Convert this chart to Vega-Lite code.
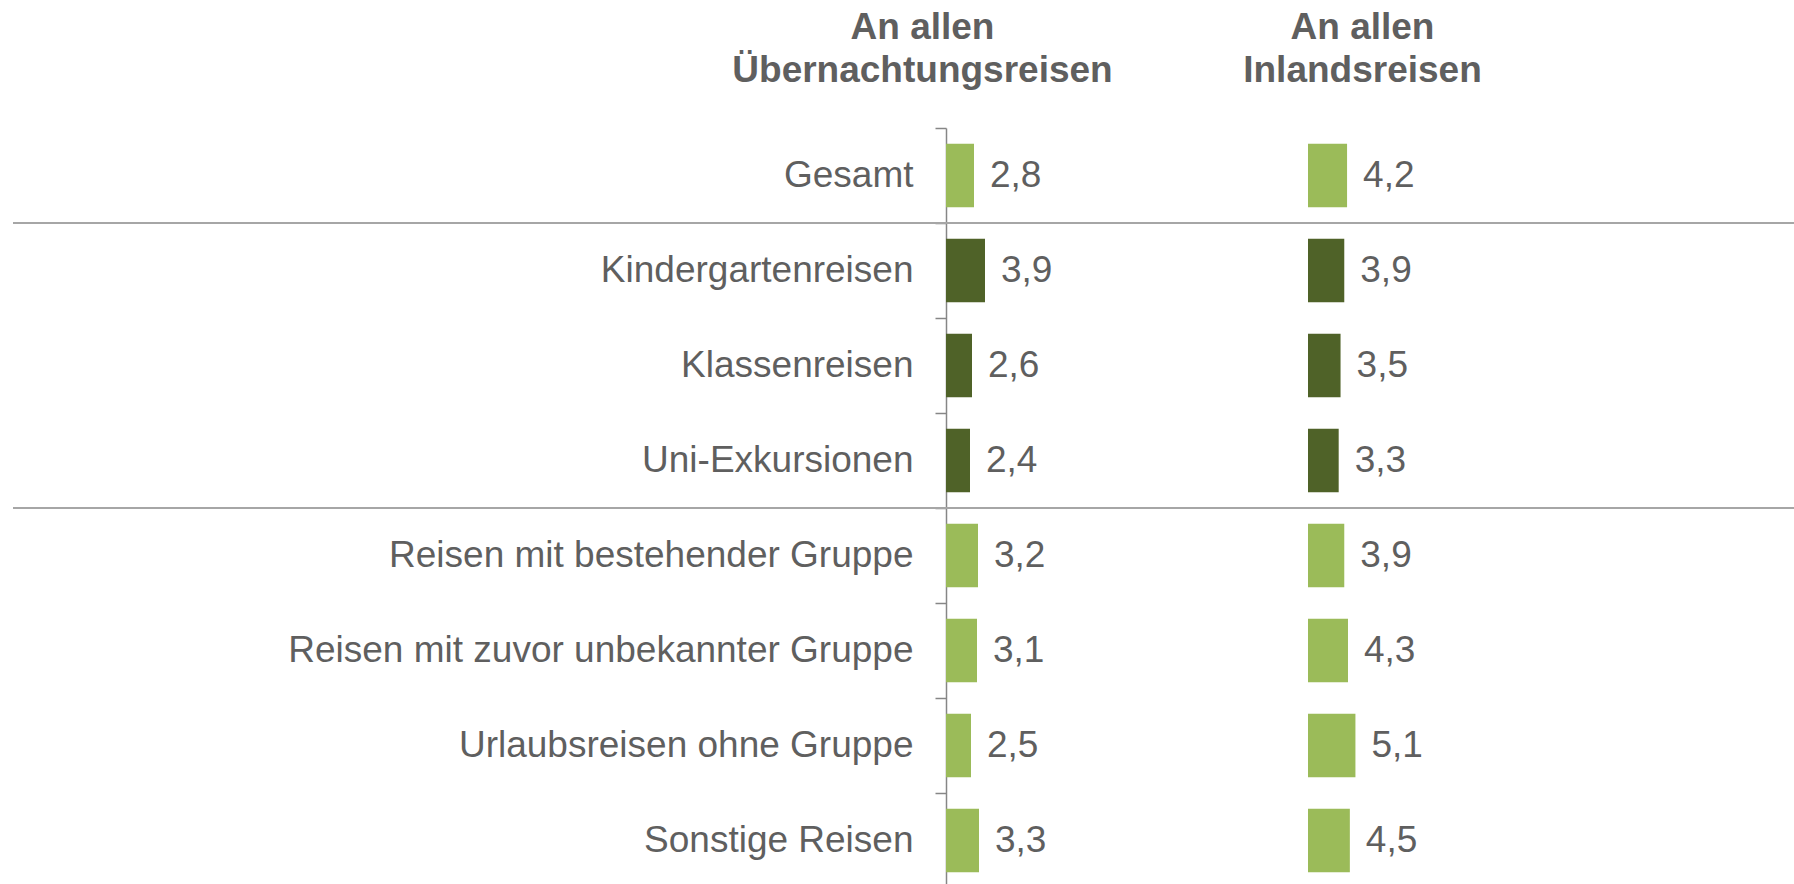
{
  "$schema": "https://vega.github.io/schema/vega-lite/v6.json",
  "autosize": "none",
  "width": 1781,
  "height": 760,
  "padding": {"left": 13, "top": 128, "right": 0, "bottom": 0},
  "background": "white",
  "config": {
    "view": {"stroke": null},
    "font": "Liberation Sans",
    "locale": {"number": {"decimal": ",", "thousands": ".", "grouping": [3], "currency": ["", " €"]}}
  },
  "data": {
    "values": [
      {"kategorie": "Gesamt", "art": "Allgemein", "uebernachtung": 2.8, "inland": 4.2},
      {"kategorie": "Kindergartenreisen", "art": "Bildung", "uebernachtung": 3.9, "inland": 3.9},
      {"kategorie": "Klassenreisen", "art": "Bildung", "uebernachtung": 2.6, "inland": 3.5},
      {"kategorie": "Uni-Exkursionen", "art": "Bildung", "uebernachtung": 2.4, "inland": 3.3},
      {"kategorie": "Reisen mit bestehender Gruppe", "art": "Allgemein", "uebernachtung": 3.2, "inland": 3.9},
      {"kategorie": "Reisen mit zuvor unbekannter Gruppe", "art": "Allgemein", "uebernachtung": 3.1, "inland": 4.3},
      {"kategorie": "Urlaubsreisen ohne Gruppe", "art": "Allgemein", "uebernachtung": 2.5, "inland": 5.1},
      {"kategorie": "Sonstige Reisen", "art": "Allgemein", "uebernachtung": 3.3, "inland": 4.5}
    ]
  },
  "encoding": {
    "y": {
      "field": "kategorie",
      "type": "nominal",
      "sort": null,
      "scale": {
        "domain": ["Gesamt", "Kindergartenreisen", "Klassenreisen", "Uni-Exkursionen", "Reisen mit bestehender Gruppe", "Reisen mit zuvor unbekannter Gruppe", "Urlaubsreisen ohne Gruppe", "Sonstige Reisen"],
        "paddingInner": 0,
        "paddingOuter": 0
      },
      "axis": {
        "title": null,
        "orient": "left",
        "offset": -933,
        "tickBand": "extent",
        "tickSize": 11,
        "tickColor": "#868686",
        "tickWidth": 1.5,
        "domainColor": "#868686",
        "domainWidth": 1.5,
        "labelPadding": 22,
        "labelFontSize": 37,
        "labelColor": "#5f5f5f",
        "labelFont": "Liberation Sans",
        "labelLimit": 0,
        "grid": false
      }
    }
  },
  "layer": [
    {
      "layer": [
        {
          "mark": {"type": "bar", "height": {"band": 0.667}},
          "encoding": {
            "x": {
              "field": "uebernachtung", "type": "quantitative",
              "scale": {"domain": [0, 10], "range": [933, 1033]},
              "axis": {"orient": "top", "title": ["An allen", "Übernachtungsreisen"], "labels": false, "ticks": false, "domain": false, "grid": false, "titleX": 909, "titleY": -90, "titleAlign": "center", "titleAnchor": null, "titleBaseline": "alphabetic", "titleFontSize": 37, "titleFontWeight": "bold", "titleColor": "#5f5f5f", "titleLineHeight": 43, "titleFont": "Liberation Sans"}
            },
            "color": {"field": "art", "type": "nominal", "scale": {"domain": ["Allgemein", "Bildung"], "range": ["#9BBB59", "#4F6228"]}, "legend": null}
          }
        },
        {
          "mark": {"type": "text", "align": "left", "baseline": "middle", "dx": 16, "fontSize": 37, "color": "#5f5f5f", "font": "Liberation Sans"},
          "encoding": {
            "x": {
              "field": "uebernachtung", "type": "quantitative",
              "scale": {"domain": [0, 10], "range": [933, 1033]},
              "axis": {"orient": "top", "title": ["An allen", "Übernachtungsreisen"], "labels": false, "ticks": false, "domain": false, "grid": false, "titleX": 909, "titleY": -90, "titleAlign": "center", "titleAnchor": null, "titleBaseline": "alphabetic", "titleFontSize": 37, "titleFontWeight": "bold", "titleColor": "#5f5f5f", "titleLineHeight": 43, "titleFont": "Liberation Sans"}
            },
            "text": {"field": "uebernachtung", "type": "quantitative", "format": ".1f"}
          }
        }
      ]
    },
    {
      "layer": [
        {
          "mark": {"type": "bar", "height": {"band": 0.667}},
          "encoding": {
            "x": {
              "field": "inland", "type": "quantitative",
              "scale": {"domain": [0, 10], "range": [1295, 1388]},
              "axis": {"orient": "top", "title": ["An allen", "Inlandsreisen"], "labels": false, "ticks": false, "domain": false, "grid": false, "titleX": 1349, "titleY": -90, "titleAlign": "center", "titleAnchor": null, "titleBaseline": "alphabetic", "titleFontSize": 37, "titleFontWeight": "bold", "titleColor": "#5f5f5f", "titleLineHeight": 43, "titleFont": "Liberation Sans"}
            },
            "color": {"field": "art", "type": "nominal", "scale": {"domain": ["Allgemein", "Bildung"], "range": ["#9BBB59", "#4F6228"]}, "legend": null}
          }
        },
        {
          "mark": {"type": "text", "align": "left", "baseline": "middle", "dx": 16, "fontSize": 37, "color": "#5f5f5f", "font": "Liberation Sans"},
          "encoding": {
            "x": {
              "field": "inland", "type": "quantitative",
              "scale": {"domain": [0, 10], "range": [1295, 1388]},
              "axis": {"orient": "top", "title": ["An allen", "Inlandsreisen"], "labels": false, "ticks": false, "domain": false, "grid": false, "titleX": 1349, "titleY": -90, "titleAlign": "center", "titleAnchor": null, "titleBaseline": "alphabetic", "titleFontSize": 37, "titleFontWeight": "bold", "titleColor": "#5f5f5f", "titleLineHeight": 43, "titleFont": "Liberation Sans"}
            },
            "text": {"field": "inland", "type": "quantitative", "format": ".1f"}
          }
        }
      ]
    },
    {
      "data": {"values": [{"kategorie": "Kindergartenreisen"}, {"kategorie": "Reisen mit bestehender Gruppe"}]},
      "mark": {"type": "rule", "color": "#A6A6A6", "strokeWidth": 2},
      "encoding": {
        "y": {"field": "kategorie", "type": "nominal", "bandPosition": 0}
      }
    }
  ],
  "resolve": {"scale": {"x": "independent"}, "axis": {"x": "independent"}}
}
